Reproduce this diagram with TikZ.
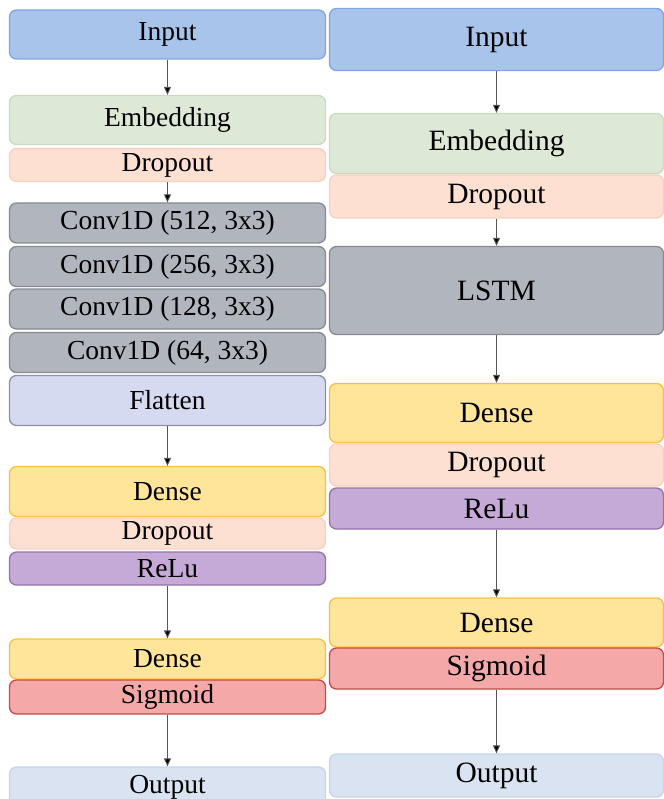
\documentclass[tikz,border=0pt]{standalone}
\usepackage{fontspec}
\setmainfont{Liberation Serif}
\usetikzlibrary{arrows.meta}

\definecolor{inputfill}{HTML}{A9C4EB}
\definecolor{inputline}{HTML}{7EA6E0}
\definecolor{embfill}{HTML}{DDE9D6}
\definecolor{embline}{HTML}{C9DCBE}
\definecolor{dropfill}{HTML}{FEE0D2}
\definecolor{dropline}{HTML}{F8D0BE}
\definecolor{convfill}{HTML}{B1B6BE}
\definecolor{convline}{HTML}{858B94}
\definecolor{flatfill}{HTML}{D5DAF0}
\definecolor{flatline}{HTML}{8C93A6}
\definecolor{densefill}{HTML}{FFE59A}
\definecolor{denseline}{HTML}{F6C142}
\definecolor{relufill}{HTML}{C5A9D6}
\definecolor{reluline}{HTML}{9672A8}
\definecolor{sigfill}{HTML}{F4A9A8}
\definecolor{sigline}{HTML}{C9484A}
\definecolor{outfill}{HTML}{DAE3F2}
\definecolor{outline}{HTML}{C6D4EA}
\definecolor{flowgray}{HTML}{555555}

\tikzset{
  layer/.style={draw, rounded corners=7pt, line width=1.3pt, inner sep=0pt, text=black},
  leftcol/.style={layer, minimum width=316pt, font=\fontsize{27.5}{31}\selectfont},
  rightcol/.style={layer, minimum width=334pt, font=\fontsize{29.5}{33}\selectfont},
  inputbox/.style={fill=inputfill, draw=inputline},
  embbox/.style={fill=embfill, draw=embline},
  dropbox/.style={fill=dropfill, draw=dropline},
  convbox/.style={fill=convfill, draw=convline},
  flatbox/.style={fill=flatfill, draw=flatline},
  densebox/.style={fill=densefill, draw=denseline},
  relubox/.style={fill=relufill, draw=reluline},
  sigbox/.style={fill=sigfill, draw=sigline},
  outbox/.style={fill=outfill, draw=outline},
  flow/.style={draw=flowgray, line width=0.9pt, -{Triangle[length=8pt,width=7pt,fill=black]}}
}

\begin{document}
\begin{tikzpicture}[x=1pt, y=-1pt]
  \useasboundingbox (0,0) rectangle (663,799);

  % CNN model (left)
  \node[leftcol, inputbox, minimum height=49pt] (inL) at (167.5,34.5) {Input};
  \node[leftcol, embbox, minimum height=49pt] (embL) at (167.5,120) {Embedding};
  \node[leftcol, dropbox, minimum height=33pt] (dropL) at (167.5,165) {Dropout};
  \node[leftcol, convbox, minimum height=40pt] (conv1) at (167.5,223) {Conv1D (512, 3x3)};
  \node[leftcol, convbox, minimum height=40pt] (conv2) at (167.5,266.5) {Conv1D (256, 3x3)};
  \node[leftcol, convbox, minimum height=40pt] (conv3) at (167.5,309) {Conv1D (128, 3x3)};
  \node[leftcol, convbox, minimum height=40pt] (conv4) at (167.5,352.5) {Conv1D (64, 3x3)};
  \node[leftcol, flatbox, minimum height=50pt] (flat) at (167.5,400.5) {Flatten};
  \node[leftcol, densebox, minimum height=50pt] (denseL1) at (167.5,491.5) {Dense};
  \node[leftcol, dropbox, minimum height=31pt] (dropL2) at (167.5,533.5) {Dropout};
  \node[leftcol, relubox, minimum height=33pt] (reluL) at (167.5,568.5) {ReLu};
  \node[leftcol, densebox, minimum height=40pt] (denseL2) at (167.5,659) {Dense};
  \node[leftcol, sigbox, minimum height=34pt] (sigL) at (167.5,697) {Sigmoid};
  \node[leftcol, outbox, minimum height=40pt] (outL) at (167.5,787) {Output};

  \draw[flow] (inL) -- (embL);
  \draw[flow] (dropL) -- (conv1);
  \draw[flow] (flat) -- (denseL1);
  \draw[flow] (reluL) -- (denseL2);
  \draw[flow] (sigL) -- (outL);

  % LSTM model (right)
  \node[rightcol, inputbox, minimum height=62pt] (inR) at (496.5,39.5) {Input};
  \node[rightcol, embbox, minimum height=60pt] (embR) at (496.5,143.5) {Embedding};
  \node[rightcol, dropbox, minimum height=43pt] (dropR) at (496.5,196.5) {Dropout};
  \node[rightcol, convbox, minimum height=88pt] (lstm) at (496.5,290.5) {LSTM};
  \node[rightcol, densebox, minimum height=59pt] (denseR1) at (496.5,413) {Dense};
  \node[rightcol, dropbox, minimum height=42pt] (dropR2) at (496.5,465) {Dropout};
  \node[rightcol, relubox, minimum height=41pt] (reluR) at (496.5,508.5) {ReLu};
  \node[rightcol, densebox, minimum height=49pt] (denseR2) at (496.5,622.5) {Dense};
  \node[rightcol, sigbox, minimum height=41pt] (sigR) at (496.5,668.5) {Sigmoid};
  \node[rightcol, outbox, minimum height=43pt] (outR) at (496.5,775.5) {Output};

  \draw[flow] (inR) -- (embR);
  \draw[flow] (dropR) -- (lstm);
  \draw[flow] (lstm) -- (denseR1);
  \draw[flow] (reluR) -- (denseR2);
  \draw[flow] (sigR) -- (outR);
\end{tikzpicture}
\end{document}
